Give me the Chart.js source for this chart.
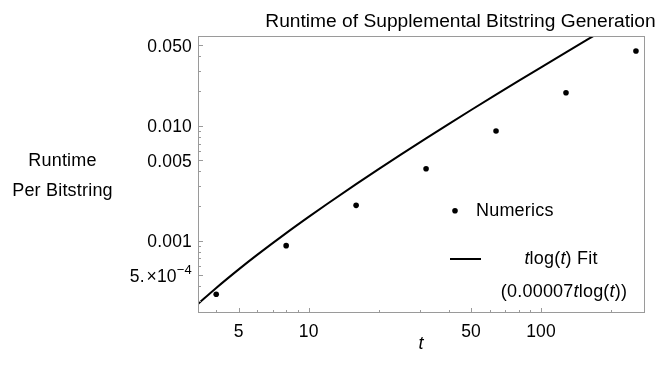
<!DOCTYPE html>
<html>
<head>
<meta charset="utf-8">
<script src="https://cdn.jsdelivr.net/npm/chart.js@4"></script>
<style>
html,body{margin:0;padding:0;background:#fff;}
#c{display:block;}
</style>
</head>
<body>
<canvas id="c" width="663" height="368"></canvas>
<script>
// ---- data ----
const tValues = [4, 8, 16, 32, 64, 128, 256];
const runtimeValues = [0.000342, 0.000905, 0.00203, 0.00422, 0.0090, 0.01936, 0.0447];
// fit curve samples: 0.00007 t log(t)
const fitT = [3.34, 4, 5, 6, 8, 10, 12, 16, 20, 25, 32, 40, 50, 64, 80, 100, 128, 160, 200];
const fitValues = [0.0002820, 0.0003882, 0.0005633, 0.0007525, 0.0011645, 0.0016118, 0.0020873,
  0.0031053, 0.004194, 0.005633, 0.007763, 0.010329, 0.013692, 0.018632, 0.024539, 0.032236,
  0.043474, 0.056842, 0.074176];
// ticks
const xMajorTicks = [5, 10, 50, 100];
const xMajorLabels = ['5', '10', '50', '100'];
const xMinorTicks = [4, 6, 7, 8, 9, 20, 30, 40, 60, 70, 80, 90, 200];
const yMajorTicks = [0.0005, 0.001, 0.005, 0.01, 0.05];
const yMajorLabels = ['5.×10^-4', '0.001', '0.005', '0.010', '0.050'];
const yMinorTicks = [0.0003, 0.0004, 0.0006, 0.0007, 0.0008, 0.0009, 0.002, 0.003, 0.004,
  0.006, 0.007, 0.008, 0.009, 0.02, 0.03, 0.04];

const titleText = 'Runtime of Supplemental Bitstring Generation';
const yTitleLines = ['Runtime', 'Per Bitstring'];
const xTitleText = 't';
const legendNumerics = 'Numerics';

const FONT = '"Liberation Sans", Arial, Helvetica, sans-serif';
const FRAME = '#9a9a9a';
const FS = 18;

function drawRich(ctx, parts, x, y, size, align) {
  let total = 0;
  const widths = parts.map(p => {
    ctx.font = (p[1] ? 'italic ' : '') + size + 'px ' + FONT;
    const w = ctx.measureText(p[0]).width;
    total += w;
    return w;
  });
  let cx = align === 'center' ? x - total / 2 : (align === 'right' ? x - total : x);
  ctx.textAlign = 'left';
  parts.forEach((p, i) => {
    ctx.font = (p[1] ? 'italic ' : '') + size + 'px ' + FONT;
    ctx.fillText(p[0], cx, y);
    cx += widths[i];
  });
}

const decor = {
  id: 'decor',
  afterDraw(chart) {
    const ctx = chart.ctx;
    const a = chart.chartArea;
    const xs = chart.scales.x, ys = chart.scales.y;
    ctx.save();
    // frame
    ctx.strokeStyle = FRAME;
    ctx.lineWidth = 1;
    ctx.strokeRect(Math.round(a.left) + 0.5, Math.round(a.top) + 0.5,
      Math.round(a.right - a.left) - 1, Math.round(a.bottom - a.top) - 1);
    // ticks
    ctx.beginPath();
    const L = Math.round(a.left) + 0.5, B = Math.round(a.bottom) - 0.5;
    xMajorTicks.forEach(v => { const px = Math.round(xs.getPixelForValue(v)) + 0.5; ctx.moveTo(px, B); ctx.lineTo(px, B - 4.5); });
    xMinorTicks.forEach(v => { const px = Math.round(xs.getPixelForValue(v)) + 0.5; ctx.moveTo(px, B); ctx.lineTo(px, B - 2.5); });
    yMajorTicks.forEach(v => { const py = Math.round(ys.getPixelForValue(v)) + 0.5; ctx.moveTo(L, py); ctx.lineTo(L + 4.5, py); });
    yMinorTicks.forEach(v => { const py = Math.round(ys.getPixelForValue(v)) + 0.5; ctx.moveTo(L, py); ctx.lineTo(L + 2.5, py); });
    ctx.stroke();

    ctx.fillStyle = '#000';
    ctx.letterSpacing = '0.2px';
    // x tick labels
    ctx.textBaseline = 'alphabetic';
    ctx.textAlign = 'center';
    ctx.font = '17.5px ' + FONT;
    xMajorTicks.forEach((v, i) => {
      ctx.fillText(xMajorLabels[i], xs.getPixelForValue(v), 336.5);
    });
    // y tick labels
    yMajorTicks.forEach((v, i) => {
      const py = ys.getPixelForValue(v) + 6.5;
      const lab = yMajorLabels[i];
      const rx = a.left - 6;
      ctx.textAlign = 'right';
      if (lab.indexOf('^') >= 0) {
        const [base, exp] = lab.split('^');
        const expTxt = exp.replace('-', '\u2212');
        ctx.font = '13px ' + FONT;
        const ew = ctx.measureText(expTxt).width;
        ctx.fillText(expTxt, rx, py - 8);
        ctx.font = '17.5px ' + FONT;
        ctx.fillText(base.replace('×', '\u200A×'), rx - ew, py);
      } else {
        ctx.font = '17.5px ' + FONT;
        ctx.fillText(lab, rx, py);
      }
    });
    // title
    ctx.textAlign = 'center';
    ctx.letterSpacing = '0px';
    ctx.font = '19.2px ' + FONT;
    ctx.fillText(titleText, 460.5, 27);
    ctx.letterSpacing = '0.2px';
    // y title
    ctx.font = FS + 'px ' + FONT;
    ctx.fillText(yTitleLines[0], 62.5, 166);
    ctx.fillText(yTitleLines[1], 62.5, 196);
    // x title
    ctx.font = 'italic ' + FS + 'px ' + FONT;
    ctx.fillText(xTitleText, 421, 349);

    // legend
    ctx.beginPath();
    ctx.arc(455, 210.7, 2.8, 0, Math.PI * 2);
    ctx.fill();
    ctx.textAlign = 'left';
    ctx.font = FS + 'px ' + FONT;
    ctx.fillText(legendNumerics, 476, 216);
    ctx.beginPath();
    ctx.strokeStyle = '#000';
    ctx.lineWidth = 2;
    ctx.moveTo(450, 259);
    ctx.lineTo(481, 259);
    ctx.stroke();
    drawRich(ctx, [['t', true], ['log(', false], ['t', true], [') Fit', false]], 561, 264, FS, 'center');
    drawRich(ctx, [['(0.00007', false], ['t', true], ['log(', false], ['t', true], ['))', false]], 564, 297, FS, 'center');
    ctx.restore();
  }
};

new Chart(document.getElementById('c'), {
  type: 'scatter',
  data: {
    datasets: [
      {
        label: 'Numerics',
        data: tValues.map((t, i) => ({ x: t, y: runtimeValues[i] })),
        backgroundColor: '#000',
        borderWidth: 0,
        pointRadius: 2.8,
        pointHoverRadius: 2.8,
        order: 1
      },
      {
        label: 'fit',
        data: fitT.map((t, i) => ({ x: t, y: fitValues[i] })),
        showLine: true,
        borderColor: '#000',
        borderWidth: 2,
        pointRadius: 0,
        tension: 0.4,
        cubicInterpolationMode: 'monotone',
        order: 2
      }
    ]
  },
  options: {
    responsive: false,
    animation: false,
    devicePixelRatio: 1,
    layout: { padding: { top: 36, right: 18, left: 0, bottom: 0 } },
    plugins: { legend: { display: false }, tooltip: { enabled: false }, title: { display: false } },
    scales: {
      x: {
        type: 'logarithmic', min: 3.34, max: 280,
        ticks: { display: false }, grid: { display: false }, border: { display: false },
        afterFit: s => { s.height = 55; }
      },
      y: {
        type: 'logarithmic', min: 0.000235, max: 0.0603,
        ticks: { display: false }, grid: { display: false }, border: { display: false },
        afterFit: s => { s.width = 198; }
      }
    }
  },
  plugins: [decor]
});
</script>
</body>
</html>
